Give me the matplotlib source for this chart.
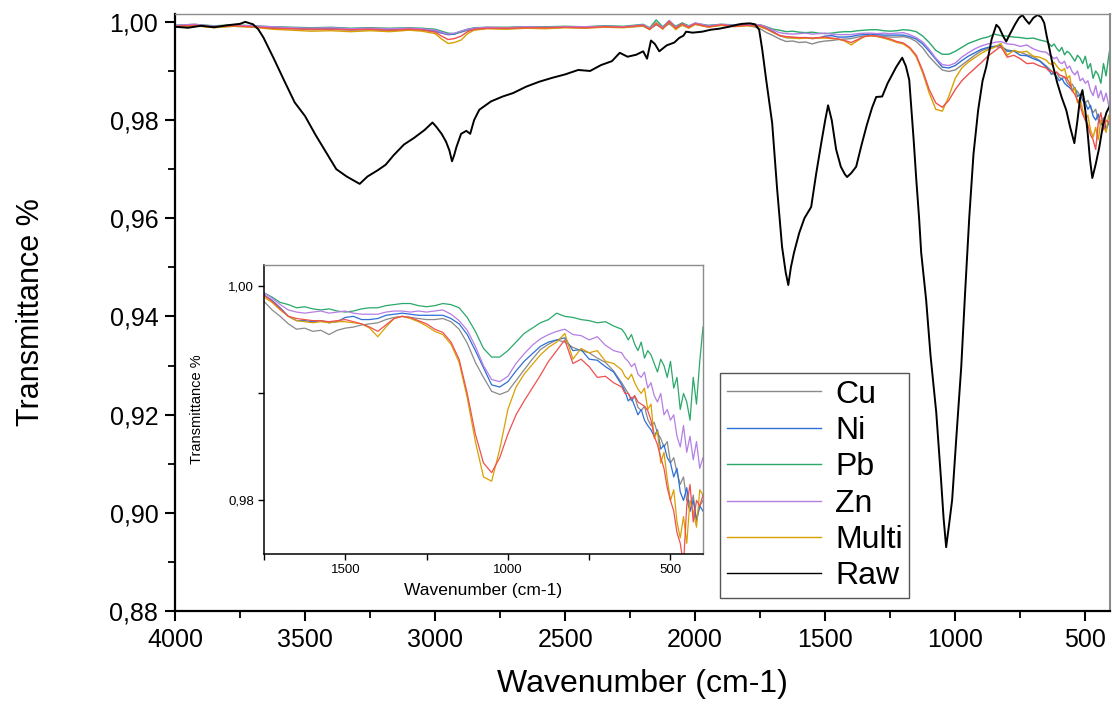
import matplotlib
matplotlib.use("Agg")
import matplotlib.pyplot as plt
from matplotlib.ticker import MultipleLocator, FuncFormatter

plt.rcParams['font.family'] = ['Liberation Sans', 'DejaVu Sans']

# wavenumber grid of the treated samples (high range + low range)
wn_hi = [4000, 3925, 3850, 3775, 3700, 3625, 3550, 3475, 3400, 3325,
         3250, 3175, 3100, 3050, 3000, 2975, 2950, 2925, 2900, 2875,
         2850, 2800, 2725, 2650, 2575, 2500, 2425, 2350, 2275, 2200,
         2175, 2150, 2125, 2100, 2075, 2050, 2025, 2000, 1950, 1900,
         1850, 1800, 1775]
wn_lo = [1750, 1725, 1700, 1675, 1650, 1625, 1600, 1575, 1550, 1525,
         1500, 1475, 1450, 1425, 1400, 1375, 1350, 1325, 1300, 1275,
         1250, 1225, 1200, 1175, 1150, 1125, 1100, 1075, 1050, 1025,
         1000, 975, 950, 925, 900, 875, 850, 825, 800, 775,
         750, 725, 700, 675,
         650, 640, 630, 620, 610, 600, 590, 580, 570, 560,
         550, 540, 530, 520, 510, 500, 490, 480, 470, 460,
         450, 440, 430, 420, 410, 400]

cu_hi = [.9990, .9993, .9989, .9991, .9990, .9987, .9986, .9984, .9985, .9983,
         .9984, .9982, .9984, .9983, .9980, .9977, .9974, .9976, .9979, .9983,
         .9985, .9987, .9986, .9988, .9987, .9989, .9988, .9990, .9989, .9991,
         .9985, .9994, .9987, .9996, .9986, .9993, .9988, .9995, .9990, .9993,
         .9991, .9993, .9990]
cu_lo = [.9986, .9978, .9972, .9965, .9960, .9961, .9958, .9959, .9955, .9959,
         .9961, .9962, .9964, .9965, .9966, .9969, .9971, .9972, .9971, .9970,
         .9969, .9969, .9970, .9967, .9960, .9947, .9929, .9915, .9902, .9899,
         .9902, .9912, .9922, .9932, .9941, .9946, .9950, .9948, .9943, .9940,
         .9938, .9933, .9929, .9921,
         .9910, .9905, .9900, .9893, .9897, .9887, .9884, .9888, .9876, .9870,
         .9873, .9863, .9858, .9850, .9855, .9835, .9840, .9826, .9815, .9822,
         .9800, .9790, .9805, .9780, .9795, .9800]

ni_hi = [.9992, .9994, .9991, .9992, .9991, .9989, .9988, .9987, .9987, .9986,
         .9987, .9985, .9986, .9985, .9982, .9978, .9974, .9975, .9980, .9984,
         .9986, .9988, .9988, .9989, .9989, .9990, .9989, .9991, .9990, .9993,
         .9986, .9997, .9989, .9999, .9988, .9995, .9990, .9996, .9991, .9994,
         .9992, .9994, .9993]
ni_lo = [.9992, .9987, .9980, .9972, .9968, .9968, .9967, .9968, .9966, .9967,
         .9971, .9972, .9969, .9969, .9970, .9973, .9974, .9975, .9974, .9973,
         .9973, .9973, .9973, .9970, .9965, .9955, .9940, .9924, .9908, .9906,
         .9911, .9921, .9930, .9937, .9944, .9948, .9950, .9952, .9940, .9941,
         .9932, .9931, .9925, .9920,
         .9908, .9902, .9893, .9896, .9888, .9880, .9885, .9875, .9870, .9866,
         .9860, .9866, .9848, .9852, .9840, .9835, .9822, .9830, .9808, .9800,
         .9812, .9790, .9800, .9782, .9795, .9790]

pb_hi = [.9993, .9995, .9992, .9994, .9992, .9990, .9989, .9988, .9989, .9987,
         .9988, .9987, .9988, .9987, .9985, .9981, .9977, .9976, .9981, .9985,
         .9988, .9989, .9989, .9990, .9990, .9991, .9990, .9992, .9991, .9995,
         .9988, 1.0004, .9990, 1.0002, .9991, .9998, .9992, .9997, .9993, .9995,
         .9994, .9996, .9995]
pb_lo = [.9994, .9990, .9985, .9983, .9980, .9981, .9979, .9978, .9979, .9977,
         .9976, .9977, .9979, .9980, .9980, .9982, .9983, .9984, .9984, .9982,
         .9981, .9982, .9984, .9983, .9980, .9971, .9958, .9942, .9934, .9934,
         .9940, .9948, .9956, .9961, .9966, .9969, .9975, .9972, .9971, .9969,
         .9968, .9966, .9967, .9963,
         .9960, .9956, .9950, .9955, .9946, .9940, .9948, .9933, .9940, .9936,
         .9928, .9920, .9932, .9926, .9915, .9930, .9905, .9915, .9885, .9900,
         .9892, .9875, .9915, .9890, .9930, .9962]

zn_hi = [.9993, .9995, .9991, .9993, .9992, .9990, .9988, .9987, .9988, .9986,
         .9987, .9986, .9987, .9986, .9983, .9979, .9975, .9977, .9981, .9985,
         .9987, .9989, .9988, .9990, .9989, .9990, .9990, .9991, .9990, .9994,
         .9987, .9999, .9988, 1.0003, .9989, .9996, .9991, .9998, .9992, .9995,
         .9993, .9995, .9994]
zn_lo = [.9994, .9989, .9983, .9978, .9976, .9975, .9976, .9977, .9975, .9976,
         .9977, .9975, .9974, .9974, .9974, .9976, .9977, .9977, .9976, .9977,
         .9976, .9977, .9978, .9974, .9968, .9959, .9944, .9926, .9913, .9911,
         .9916, .9928, .9937, .9945, .9951, .9955, .9958, .9960, .9955, .9954,
         .9950, .9953, .9945, .9940,
         .9938, .9933, .9930, .9925, .9928, .9918, .9915, .9920, .9905, .9910,
         .9898, .9892, .9900, .9880, .9885, .9875, .9880, .9860, .9850, .9870,
         .9845, .9860, .9838, .9855, .9830, .9840]

multi_hi = [.9990, .9992, .9988, .9991, .9989, .9985, .9983, .9981, .9982, .9980,
            .9982, .9980, .9983, .9981, .9976, .9965, .9956, .9958, .9963, .9976,
            .9983, .9986, .9985, .9987, .9986, .9988, .9987, .9989, .9988, .9992,
            .9984, .9998, .9985, 1.0000, .9984, .9994, .9987, .9995, .9989, .9993,
            .9990, .9992, .9991]
multi_lo = [.9990, .9985, .9978, .9972, .9968, .9967, .9966, .9967, .9966, .9967,
            .9967, .9966, .9965, .9961, .9953, .9962, .9970, .9972, .9970, .9967,
            .9963, .9958, .9955, .9946, .9929, .9896, .9855, .9822, .9818, .9848,
            .9885, .9906, .9918, .9927, .9936, .9943, .9948, .9956, .9932, .9942,
            .9938, .9940, .9930, .9928,
            .9922, .9916, .9913, .9918, .9910, .9904, .9900, .9905, .9885, .9890,
            .9858, .9865, .9835, .9845, .9820, .9800, .9810, .9780, .9765, .9785,
            .9760, .9800, .9790, .9775, .9810, .9805]

# red trace (no legend entry in the original)
red_hi = [.9991, .9993, .9990, .9992, .9990, .9987, .9986, .9985, .9985, .9984,
          .9985, .9983, .9985, .9984, .9979, .9971, .9964, .9966, .9971, .9980,
          .9985, .9987, .9987, .9988, .9988, .9989, .9988, .9990, .9989, .9993,
          .9985, .9996, .9986, 1.0001, .9987, .9996, .9989, .9996, .9990, .9994,
          .9991, .9993, .9992]
red_lo = [.9992, .9986, .9979, .9972, .9970, .9969, .9968, .9968, .9967, .9968,
          .9969, .9967, .9965, .9962, .9958, .9964, .9970, .9972, .9971, .9968,
          .9965, .9960, .9957, .9948, .9932, .9900, .9862, .9835, .9826, .9840,
          .9862, .9880, .9893, .9905, .9917, .9930, .9940, .9950, .9928, .9932,
          .9925, .9915, .9916, .9910,
          .9906, .9900, .9900, .9895, .9898, .9892, .9890, .9888, .9884, .9875,
          .9860, .9852, .9840, .9830, .9812, .9800, .9790, .9770, .9760, .9740,
          .9795, .9815, .9780, .9800, .9795, .9805]

# raw biomass
wn_raw = [4000, 3950, 3900, 3850, 3800, 3750, 3730, 3700, 3680, 3660,
          3620, 3580, 3540, 3500, 3460, 3420, 3380, 3340, 3310, 3290,
          3260, 3220, 3190, 3160, 3120, 3080, 3040, 3010, 2995, 2975,
          2958, 2945, 2935, 2927, 2918, 2900, 2880, 2865, 2850, 2830,
          2785, 2740, 2700, 2650, 2600, 2550, 2500, 2450, 2404, 2362,
          2320, 2290, 2260, 2227, 2200, 2185, 2170, 2155, 2138, 2110,
          2080, 2062, 2045, 2035, 2010, 1973, 1940, 1908, 1870, 1840,
          1819, 1790, 1770, 1754, 1742, 1727, 1704, 1685, 1666, 1652,
          1642, 1632, 1620, 1600, 1580, 1554, 1535, 1515, 1500, 1489,
          1475, 1458, 1440, 1425, 1416, 1400, 1381, 1360, 1340, 1320,
          1304, 1281, 1260, 1240, 1227, 1204, 1190, 1177, 1160, 1150,
          1139, 1131, 1112, 1095, 1073, 1055, 1045, 1035, 1024, 1012,
          995, 977, 962, 946, 930, 912, 895, 881, 860, 842,
          831, 815, 804, 790, 770, 755, 742, 730, 716, 700,
          684, 670, 658, 648, 639, 625, 608, 590, 573, 558,
          542, 530, 520, 511, 500, 491, 482, 473, 460, 446,
          432, 419, 405]
t_raw = [.9990, .9988, .9992, .9989, .9993, .9996, 1.0000, .9995, .9985, .9968,
         .9925, .9880, .9836, .9808, .9770, .9735, .9700, .9685, .9676, .9670,
         .9685, .9698, .9709, .9728, .9750, .9764, .9780, .9795, .9786, .9772,
         .9756, .9738, .9716, .9728, .9745, .9772, .9778, .9772, .9800, .9821,
         .9838, .9848, .9855, .9868, .9878, .9886, .9893, .9902, .9900, .9912,
         .9920, .9937, .9929, .9933, .9940, .9925, .9962, .9955, .9940, .9952,
         .9958, .9967, .9972, .9980, .9978, .9980, .9984, .9986, .9990, .9994,
         .9996, .9997, .9995, .9984, .9943, .9882, .9794, .9660, .9542, .9490,
         .9464, .9500, .9530, .9570, .9600, .9623, .9690, .9754, .9800, .9830,
         .9800, .9740, .9705, .9690, .9684, .9692, .9705, .9750, .9790, .9825,
         .9847, .9848, .9875, .9895, .9908, .9927, .9910, .9882, .9760, .9680,
         .9600, .9530, .9434, .9320, .9204, .9070, .8990, .8930, .8975, .9026,
         .9160, .9297, .9450, .9603, .9730, .9820, .9880, .9908, .9965, .9994,
         .9988, .9970, .9960, .9975, .9995, 1.0008, 1.0014, 1.0005, .9996, 1.0008,
         1.0014, 1.0010, .9998, .9970, .9948, .9912, .9876, .9845, .9820, .9785,
         .9753, .9800, .9845, .9861, .9820, .9774, .9720, .9682, .9710, .9745,
         .9790, .9815, .9830]

wn = wn_hi + wn_lo
samples = [
    ('Cu', cu_hi + cu_lo, '#8a8a8a'),
    ('Ni', ni_hi + ni_lo, '#2f6fd6'),
    ('Pb', pb_hi + pb_lo, '#2aa86a'),
    ('Zn', zn_hi + zn_lo, '#b57fe4'),
    ('Multi', multi_hi + multi_lo, '#d9a000'),
]
red = red_hi + red_lo


def comma(v, pos):
    return ('%.2f' % v).replace('.', ',')


def style_box(a, lw):
    a.spines['left'].set_linewidth(lw)
    a.spines['bottom'].set_linewidth(lw)
    a.spines['top'].set_color('#8c8c8c')
    a.spines['right'].set_color('#8c8c8c')
    a.spines['top'].set_linewidth(1.0)
    a.spines['right'].set_linewidth(1.5)


fig = plt.figure(figsize=(11.12, 7.04), dpi=100)
ax = fig.add_axes([0.1574, 0.1321, 0.8408, 0.848])

handles = []
for name, vals, col in samples:
    h, = ax.plot(wn, vals, color=col, lw=1.0, label=name)
    handles.append(h)
ax.plot(wn, red, color='#f0504f', lw=1.0)
h, = ax.plot(wn_raw, t_raw, color='black', lw=1.4, label='Raw')
handles.append(h)

ax.set_xlim(4000, 405)
ax.set_ylim(0.88, 1.0016)
ax.xaxis.set_major_locator(MultipleLocator(500))
ax.xaxis.set_minor_locator(MultipleLocator(250))
ax.yaxis.set_major_locator(MultipleLocator(0.02))
ax.yaxis.set_minor_locator(MultipleLocator(0.01))
ax.yaxis.set_major_formatter(FuncFormatter(comma))
ax.tick_params(which='major', direction='out', length=7, width=1.5, labelsize=18, pad=5)
ax.tick_params(which='minor', direction='out', length=5, width=1.3)
style_box(ax, 1.6)
ax.set_xlabel('Wavenumber (cm-1)', fontsize=23)
ax.set_ylabel('Transmittance %', fontsize=22)
ax.xaxis.set_label_coords(0.5, -0.097)
ax.yaxis.set_label_coords(-0.138, 0.5)

leg = ax.legend(handles=handles, loc='lower left', bbox_to_anchor=(0.583, 0.022),
                borderaxespad=0, fontsize=23, frameon=True, fancybox=False,
                edgecolor='#555555', framealpha=1, handlelength=2.95,
                handletextpad=0.45, labelspacing=0.2, borderpad=0.2)
leg.get_frame().set_linewidth(1.0)
for lh in leg.get_lines():
    lh.set_linewidth(1.0)

# inset: zoom on the fingerprint region
ins = fig.add_axes([0.2374, 0.2131, 0.3948, 0.4105])
for name, vals, col in samples:
    ins.plot(wn, vals, color=col, lw=0.9)
ins.plot(wn, red, color='#f0504f', lw=0.9)
ins.set_xlim(1750, 400)
ins.set_ylim(0.975, 1.002)
ins.xaxis.set_major_locator(MultipleLocator(500))
ins.xaxis.set_minor_locator(MultipleLocator(250))
ins.yaxis.set_major_locator(MultipleLocator(0.02))
ins.yaxis.set_minor_locator(MultipleLocator(0.01))
ins.yaxis.set_major_formatter(FuncFormatter(comma))
ins.tick_params(which='major', direction='out', length=4, width=1.0, labelsize=9.5, pad=3)
ins.tick_params(which='minor', direction='out', length=4, width=1.0)
style_box(ins, 1.1)
ins.spines['right'].set_linewidth(1.0)
ins.set_xlabel('Wavenumber (cm-1)', fontsize=12.5)
ins.set_ylabel('Transmittance %', fontsize=10.5)
ins.xaxis.set_label_coords(0.5, -0.10)
ins.yaxis.set_label_coords(-0.137, 0.5)

fig.savefig('out.png', dpi=100)
